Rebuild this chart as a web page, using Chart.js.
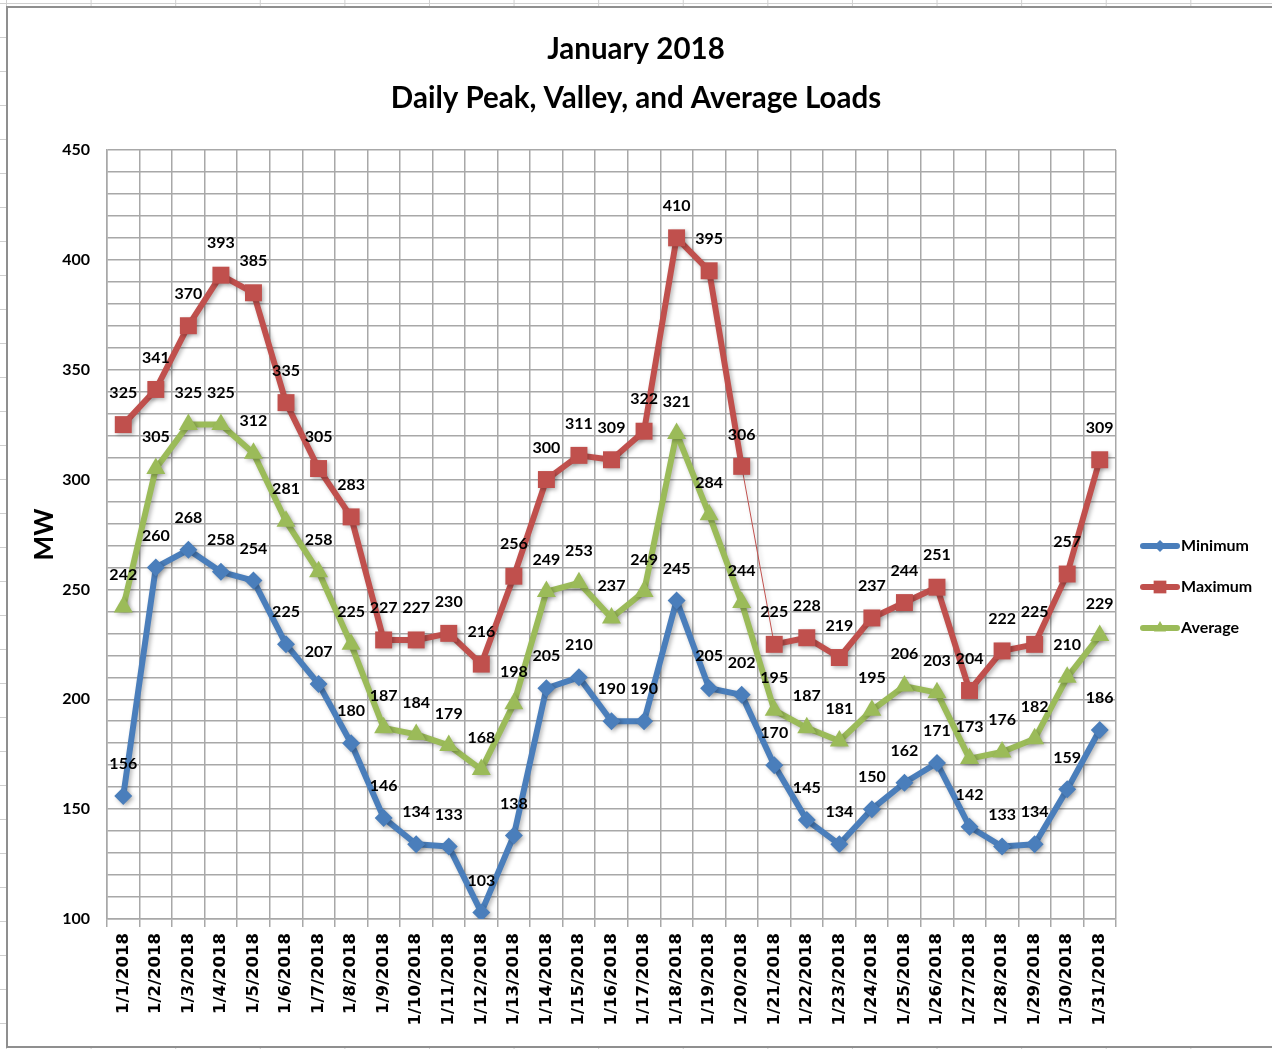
<!DOCTYPE html>
<html><head><meta charset="utf-8">
<script src="https://cdn.jsdelivr.net/npm/chart.js@4.4.1/dist/chart.umd.min.js"></script>
<style>
html,body{margin:0;padding:0;width:1272px;height:1049px;overflow:hidden;}
body{position:relative;background-color:#fff;
background-image:linear-gradient(to right,#cfcfcf 0,#cfcfcf 1px,transparent 1px),linear-gradient(to bottom,#cfcfcf 0,#cfcfcf 1px,transparent 1px);
background-size:84.6px 34px;background-position:6px 3px;}
#frame{position:absolute;left:6px;top:6px;width:1300px;height:1038px;border:2px solid #8f8f8f;background:#fff;}
canvas{position:absolute;left:0;top:0;}
</style></head><body>
<div id="frame"></div>
<canvas id="c" width="1272" height="1049"></canvas>
<script>
const dates = ['1/1/2018','1/2/2018','1/3/2018','1/4/2018','1/5/2018','1/6/2018','1/7/2018','1/8/2018','1/9/2018','1/10/2018','1/11/2018','1/12/2018','1/13/2018','1/14/2018','1/15/2018','1/16/2018','1/17/2018','1/18/2018','1/19/2018','1/20/2018','1/21/2018','1/22/2018','1/23/2018','1/24/2018','1/25/2018','1/26/2018','1/27/2018','1/28/2018','1/29/2018','1/30/2018','1/31/2018'];
const minimum = [156,260,268,258,254,225,207,180,146,134,133,103,138,205,210,190,190,245,205,202,170,145,134,150,162,171,142,133,134,159,186];
const maximum = [325,341,370,393,385,335,305,283,227,227,230,216,256,300,311,309,322,410,395,306,225,228,219,237,244,251,204,222,225,257,309];
const average = [242,305,325,325,312,281,258,225,187,184,179,168,198,249,253,237,249,321,284,244,195,187,181,195,206,203,173,176,182,210,229];
const seriesNames = ['Minimum','Maximum','Average'];
const titleLines = ['January 2018','Daily Peak, Valley, and Average Loads'];
const yAxisTitle = 'MW';
const yMin = 100, yMax = 450, yLabelStep = 50, yGridStep = 10;

const BLUE = '#4a7ebb', RED = '#c0504d', GREEN = '#9bbb59', GRID = '#a8a8a8';
const LABEL_FONT = 'Lato';

const shadowPlugin = {
  id: 'shadowPlugin',
  beforeDatasetsDraw(chart) {
    const c = chart.ctx; c.save();
    c.shadowColor = 'rgba(0,0,0,0.28)'; c.shadowBlur = 4; c.shadowOffsetX = 2; c.shadowOffsetY = 2;
  },
  afterDatasetsDraw(chart) { chart.ctx.restore(); }
};

const valueLabels = {
  id: 'valueLabels',
  afterDatasetsDraw(chart) {
    const ctx = chart.ctx; ctx.save();
    ctx.font = 'bold 16px ' + LABEL_FONT; ctx.fillStyle = '#000';
    ctx.textAlign = 'center'; ctx.textBaseline = 'middle';
    chart.data.datasets.forEach((ds, i) => {
      chart.getDatasetMeta(i).data.forEach((pt, j) => {
        ctx.fillText(String(ds.data[j]), pt.x, pt.y - 32);
      });
    });
    ctx.restore();
  }
};

const sideLegend = {
  id: 'sideLegend',
  afterDraw(chart) {
    const ctx = chart.ctx;
    const styles = [['rectRot', 6], ['rect', 9], ['triangle', 7]];
    chart.data.datasets.forEach((ds, k) => {
      const y = 546 + k * 41;
      ctx.save();
      ctx.strokeStyle = ds.borderColor; ctx.fillStyle = ds.borderColor;
      ctx.lineWidth = 6; ctx.lineCap = 'round';
      ctx.beginPath(); ctx.moveTo(1143, y); ctx.lineTo(1177, y); ctx.stroke();
      Chart.helpers.drawPoint(ctx, {pointStyle: styles[k][0], radius: styles[k][1], rotation: 0, borderWidth: 0}, 1160, y);
      ctx.fillStyle = '#000'; ctx.font = 'bold 16px ' + LABEL_FONT;
      ctx.textAlign = 'left'; ctx.textBaseline = 'middle';
      ctx.fillText(ds.label, 1181, y);
      ctx.restore();
    });
  }
};

const common = {borderWidth: 6, tension: 0, pointBorderWidth: 0, borderJoinStyle: 'round', borderCapStyle: 'round'};

new Chart(document.getElementById('c'), {
  type: 'line',
  data: {
    labels: dates,
    datasets: [
      Object.assign({label: seriesNames[0], data: minimum, borderColor: BLUE, backgroundColor: BLUE, pointBackgroundColor: BLUE, pointStyle: 'rectRot', pointRadius: 9, order: 3}, common),
      Object.assign({label: seriesNames[1], data: maximum, borderColor: RED, backgroundColor: RED, pointBackgroundColor: RED, pointStyle: 'rect', pointRadius: 12, order: 2,
        segment: {borderWidth: c => c.p0DataIndex === 19 ? 1 : undefined}}, common),
      Object.assign({label: seriesNames[2], data: average, borderColor: GREEN, backgroundColor: GREEN, pointBackgroundColor: GREEN, pointStyle: 'triangle', pointRadius: 11, order: 1}, common)
    ]
  },
  options: {
    responsive: false, animation: false, devicePixelRatio: 1,
    layout: {padding: {left: 0, right: 0, top: 0, bottom: 0}},
    plugins: {
      legend: {display: false},
      tooltip: {enabled: false},
      title: {display: true, text: titleLines, color: '#000',
        font: {family: LABEL_FONT, size: 29.5, weight: 'bold', lineHeight: 1.66},
        padding: {top: 25, bottom: 27}}
    },
    scales: {
      x: {
        offset: true,
        grid: {offset: true, color: GRID, lineWidth: 1.5, tickLength: 8, drawTicks: true},
        border: {color: GRID, width: 1.5},
        ticks: {minRotation: 90, maxRotation: 90, autoSkip: false, padding: 6, color: '#000',
          font: {family: 'DejaVu Sans', size: 16.5, weight: 'bold'}},
        afterFit(s) { s.height = 130; }
      },
      y: {
        min: yMin, max: yMax,
        ticks: {stepSize: yGridStep, autoSkip: false, padding: 17, color: '#000',
          callback: v => (v % yLabelStep === 0 ? v : ''),
          font: {family: LABEL_FONT, size: 16, weight: 'bold'}},
        grid: {color: GRID, lineWidth: 1.5, drawTicks: false},
        border: {color: GRID, width: 1.5},
        title: {display: true, text: yAxisTitle, color: '#000',
          font: {family: LABEL_FONT, size: 26, weight: 'bold'}, padding: {top: 29, bottom: 0}},
        afterFit(s) { s.width = 107; }
      },
      legendSpace: {
        type: 'linear', position: 'right', display: true,
        grid: {display: false, drawTicks: false}, border: {display: false},
        ticks: {display: false},
        afterFit(s) { s.width = 156; }
      }
    }
  },
  plugins: [shadowPlugin, valueLabels, sideLegend]
});
</script>
</body></html>
